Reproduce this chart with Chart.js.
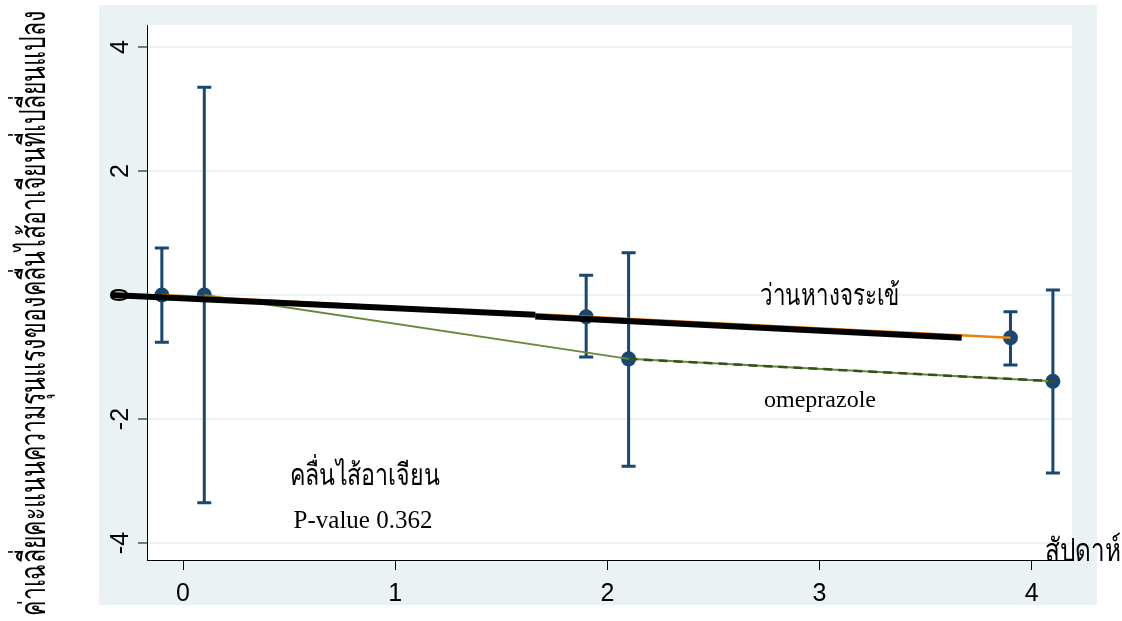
<!DOCTYPE html>
<html>
<head>
<meta charset="utf-8">
<script src="https://cdn.jsdelivr.net/npm/chart.js@4.4.1/dist/chart.umd.min.js"></script>
<style>
  html, body { margin: 0; padding: 0; background: #ffffff; }
  #wrap { width: 1122px; height: 621px; }
</style>
</head>
<body>
<div id="wrap"><canvas id="c" width="1122" height="621"></canvas></div>
<script>
// Mean change in nausea/vomiting severity score by week, two treatment groups
const xTicks = [0, 1, 2, 3, 4];
const yTicks = [-4, -2, 0, 2, 4];

// Aloe vera group (plotted slightly left of each week)
const aloeX    = [-0.1, 1.9, 3.9];
const aloeMean = [0, -0.35, -0.69];
const aloeLow  = [-0.76, -1.0, -1.13];
const aloeHigh = [0.76, 0.32, -0.27];

// Omeprazole group (plotted slightly right of each week)
const omeX    = [0.1, 2.1, 4.1];
const omeMean = [0, -1.03, -1.39];
const omeLow  = [-3.35, -2.76, -2.87];
const omeHigh = [3.35, 0.68, 0.08];

// Thick overall trend line, drawn in two pieces
const trendAX = [-0.34, 1.66];
const trendAY = [0, -0.32];
const trendBX = [1.66, 3.67];
const trendBY = [-0.345, -0.69];

const yTitle = 'ค่าเฉลี่ยคะแนนความรุนแรงของคลื่นไส้อาเจียนที่เปลี่ยนแปลง';
const xTitle = 'สัปดาห์';
const labelAloe = 'ว่านหางจระเข้';
const labelOme = 'omeprazole';
const labelMain = 'คลื่นไส้อาเจียน';
const labelP = 'P-value 0.362';

const NAVY = '#1A476F';
const ORANGE = '#E8820E';
const GREEN = '#6A883A';
const DKGREEN = '#34501A';
const PANEL = '#EAF2F3';
const SANS = "'Liberation Sans', Arial, sans-serif";
const SERIF = "'Liberation Serif', 'Times New Roman', serif";

const pts = (xs, ys) => xs.map((x, i) => ({ x: x, y: ys[i] }));

// Panel backgrounds: light outer frame, white plot region
const backgroundPlugin = {
  id: 'panels',
  beforeDraw(chart) {
    const { ctx, chartArea: a } = chart;
    ctx.save();
    ctx.fillStyle = '#ffffff';
    ctx.fillRect(0, 0, chart.width, chart.height);
    ctx.fillStyle = PANEL;
    ctx.fillRect(99, 5, 998, 600);
    ctx.fillStyle = '#ffffff';
    ctx.fillRect(a.left, a.top, a.right - a.left, a.bottom - a.top);
    ctx.restore();
  }
};

// Vertical confidence bars with caps
const errorBarPlugin = {
  id: 'errorBars',
  beforeDatasetsDraw(chart) {
    const { ctx, scales: { x, y } } = chart;
    const groups = [[aloeX, aloeLow, aloeHigh], [omeX, omeLow, omeHigh]];
    ctx.save();
    ctx.strokeStyle = NAVY;
    ctx.lineWidth = 3;
    ctx.lineCap = 'butt';
    groups.forEach(([xs, lo, hi]) => {
      xs.forEach((xv, i) => {
        const px = x.getPixelForValue(xv);
        const p1 = y.getPixelForValue(lo[i]);
        const p2 = y.getPixelForValue(hi[i]);
        ctx.beginPath();
        ctx.moveTo(px, p1); ctx.lineTo(px, p2);
        ctx.moveTo(px - 7, p1); ctx.lineTo(px + 7, p1);
        ctx.moveTo(px - 7, p2); ctx.lineTo(px + 7, p2);
        ctx.stroke();
      });
    });
    ctx.restore();
  }
};

function drawFitted(ctx, text, x, y, width, rotation) {
  const w = ctx.measureText(text).width;
  ctx.save();
  ctx.translate(x, y);
  ctx.rotate(rotation);
  ctx.scale(width / w, 1);
  ctx.fillText(text, 0, 0);
  ctx.restore();
}

// Axis titles and in-plot labels
const textPlugin = {
  id: 'texts',
  afterDraw(chart) {
    const ctx = chart.ctx;
    ctx.save();
    ctx.fillStyle = '#000000';
    ctx.textAlign = 'center';
    ctx.textBaseline = 'alphabetic';

    ctx.font = '36px ' + SANS;
    drawFitted(ctx, yTitle, 45, 313, 605, -Math.PI / 2);

    ctx.font = '32px ' + SANS;
    drawFitted(ctx, xTitle, 1083, 561, 76, 0);

    ctx.font = '30px ' + SERIF;
    drawFitted(ctx, labelAloe, 830, 305, 140, 0);
    drawFitted(ctx, labelMain, 365, 485, 150, 0);

    ctx.font = '24px ' + SERIF;
    ctx.fillText(labelOme, 820, 407);
    ctx.font = '25px ' + SERIF;
    ctx.fillText(labelP, 363, 528);
    ctx.restore();
  }
};

new Chart(document.getElementById('c'), {
  type: 'scatter',
  data: {
    datasets: [
      { data: pts(trendAX, trendAY), showLine: true, borderColor: '#000000', borderWidth: 6,
        pointRadius: 0, clip: false, order: 0 },
      { data: pts(trendBX, trendBY), showLine: true, borderColor: '#000000', borderWidth: 6,
        pointRadius: 0, clip: false, order: 0 },
      { data: pts(aloeX, aloeMean), showLine: true, borderColor: ORANGE, borderWidth: 2.5,
        pointRadius: 0, order: 1 },
      { data: pts(omeX, omeMean), showLine: true, borderColor: DKGREEN, borderWidth: 2.5,
        pointRadius: 0, order: 1,
        segment: {
          borderColor: c => c.p0DataIndex === 1 ? DKGREEN : 'rgba(0,0,0,0)',
          borderDash: c => c.p0DataIndex === 1 ? [9, 6] : undefined
        } },
      { data: pts(omeX, omeMean), showLine: true, borderColor: GREEN, borderWidth: 2,
        pointRadius: 0, order: 2 },
      { data: pts(aloeX, aloeMean), showLine: false, pointRadius: 7.5,
        pointBackgroundColor: NAVY, pointBorderWidth: 0, order: 3 },
      { data: pts(omeX, omeMean), showLine: false, pointRadius: 7.5,
        pointBackgroundColor: NAVY, pointBorderWidth: 0, order: 3 }
    ]
  },
  options: {
    responsive: false,
    animation: false,
    devicePixelRatio: 1,
    layout: { padding: { left: 0, top: 25, right: 50, bottom: 0 } },
    plugins: { legend: { display: false }, tooltip: { enabled: false } },
    scales: {
      x: {
        type: 'linear',
        min: -0.17,
        max: 4.19,
        afterBuildTicks: s => { s.ticks = xTicks.map(v => ({ value: v })); },
        afterFit: s => { s.height = 61; },
        grid: { drawOnChartArea: false, tickLength: 10, tickColor: '#000000', tickWidth: 1 },
        border: { display: true, color: '#000000', width: 1 },
        ticks: { color: '#000000', font: { family: SANS, size: 25 }, padding: 9,
                 maxRotation: 0, autoSkip: false }
      },
      y: {
        type: 'linear',
        min: -4.274,
        max: 4.355,
        afterBuildTicks: s => { s.ticks = yTicks.map(v => ({ value: v })); },
        afterFit: s => { s.width = 147; },
        grid: { color: PANEL, lineWidth: 2, tickLength: 9, tickColor: '#000000', tickWidth: 1 },
        border: { display: true, color: '#000000', width: 1 },
        ticks: { color: '#000000', font: { family: SANS, size: 25 }, padding: 6,
                 minRotation: 90, maxRotation: 90, crossAlign: 'center', autoSkip: false }
      }
    }
  },
  plugins: [backgroundPlugin, errorBarPlugin, textPlugin]
});
</script>
</body>
</html>
